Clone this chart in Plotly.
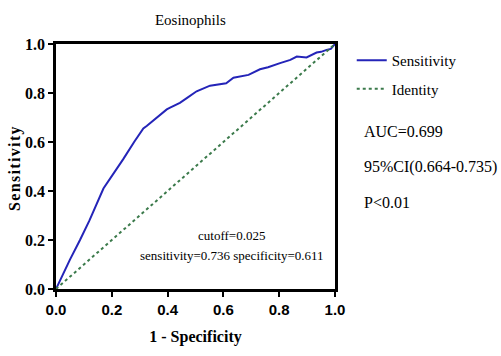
import plotly.graph_objects as go

# ROC curve points (1 - specificity, sensitivity)
fpr = [0.0, 0.02, 0.05, 0.086, 0.12, 0.17, 0.194, 0.241, 0.28, 0.313, 0.325, 0.36,
       0.397, 0.409, 0.444, 0.47, 0.498, 0.504, 0.552, 0.588, 0.61, 0.636, 0.671,
       0.69, 0.731, 0.76, 0.803, 0.84, 0.863, 0.898, 0.934, 0.95, 0.970, 0.985, 1.0]
tpr = [0.0, 0.05, 0.12, 0.20, 0.28, 0.41, 0.449, 0.53, 0.60, 0.655, 0.665, 0.70,
       0.733, 0.74, 0.76, 0.78, 0.805, 0.807, 0.83, 0.838, 0.84, 0.862, 0.868,
       0.874, 0.897, 0.905, 0.922, 0.935, 0.949, 0.945, 0.965, 0.968, 0.976, 0.98, 1.0]
identity = [0.0, 1.0]

tick_vals = [0.0, 0.2, 0.4, 0.6, 0.8, 1.0]
tick_text = ["0.0", "0.2", "0.4", "0.6", "0.8", "1.0"]

title = "Eosinophils"
y_title = "Sensitivity"
stats = ["AUC=0.699", "95%CI(0.664-0.735)", "P<0.01"]
cut_lines = ["cutoff=0.025", "sensitivity=0.736 specificity=0.611"]

serif = "Liberation Serif, Times New Roman, serif"

fig = go.Figure()
fig.add_trace(go.Scatter(x=fpr, y=tpr, mode="lines", name="Sensitivity",
                         line=dict(color="#2424b8", width=2), legendgroup="a"))
fig.add_trace(go.Scatter(x=identity, y=identity, mode="lines", name="Identity",
                         line=dict(color="#3b7a4b", width=2, dash="dot"), legendgroup="b"))

axis_common = dict(range=[0, 1], showgrid=False, zeroline=False, showline=True,
                   linecolor="black", linewidth=2.5, mirror=True, ticks="outside",
                   ticklen=5, tickwidth=2, tickcolor="black", tickvals=tick_vals,
                   ticktext=tick_text)

fig.update_layout(
    width=501, height=356,
    margin=dict(l=56, r=166, t=44, b=65),
    paper_bgcolor="white", plot_bgcolor="white",
    title=dict(text=title, x=0.38, xanchor="center", y=0.945, yanchor="middle",
               font=dict(family=serif, size=15, color="black")),
    xaxis=dict(**axis_common,
               tickfont=dict(family="Liberation Sans Narrow, Liberation Sans, Arial", size=15,
                             color="black", weight="bold"),
               title=dict(text="1 - Specificity", standoff=15,
                          font=dict(family=serif, size=16, color="black", weight="bold"))),
    yaxis=dict(**axis_common,
               tickfont=dict(family=serif, size=16, color="black", weight="bold")),
    legend=dict(x=1.06, y=1.0, xanchor="left", yanchor="top", traceorder="grouped",
                tracegroupgap=6, itemwidth=30, bgcolor="rgba(0,0,0,0)",
                font=dict(family=serif, size=15, color="black")),
    showlegend=True,
)

# rotated y-axis title with letter spacing
fig.add_annotation(text="\u200a".join(y_title), xref="paper", yref="paper",
                   x=-0.147, y=0.49, xanchor="center", yanchor="middle",
                   textangle=-90, showarrow=False,
                   font=dict(family=serif, size=16, color="black", weight="bold"))

stat_y = [0.641, 0.496, 0.352]
for txt, yy in zip(stats, stat_y):
    fig.add_annotation(text=txt, xref="paper", yref="paper", x=1.098, y=yy,
                       xanchor="left", yanchor="middle", showarrow=False,
                       font=dict(family=serif, size=16, color="black"))

for txt, yy in zip(cut_lines, [0.22, 0.137]):
    fig.add_annotation(text=txt, xref="paper", yref="paper", x=0.63, y=yy,
                       xanchor="center", yanchor="middle", showarrow=False,
                       font=dict(family=serif, size=13, color="black"))

fig.write_html("out.html")
